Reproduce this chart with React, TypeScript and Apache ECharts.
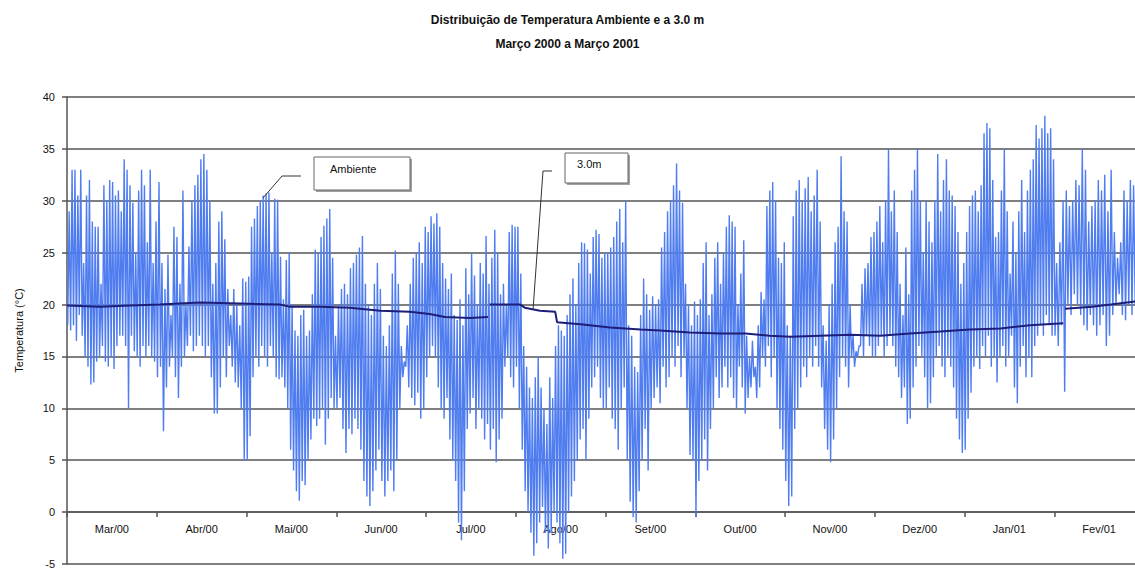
import React, { useEffect, useRef } from "react";
import * as echarts from "echarts";

// ---- Category labels (months) ----
const MONTHS = ["Mar/00", "Abr/00", "Mai/00", "Jun/00", "Jul/00", "Ago/00", "Set/00", "Out/00", "Nov/00", "Dez/00", "Jan/01", "Fev/01"];

// ---- Ambient temperature: daily maxima / minima (°C), per month ----
const marMax = [29, 33, 33, 30.5, 33, 24, 30.5, 32, 28, 27.5, 27.5, 22, 31.5, 30, 32, 31.8, 30.5, 31, 29, 34, 33, 31.5, 29.8, 25, 31, 33, 31.5, 26, 33, 24, 28];
const marMin = [18, 17.5, 18, 16.5, 19, 17, 15, 14, 12.3, 12.5, 14.5, 15, 16, 14.5, 14, 15, 13.8, 16, 17, 17, 16, 10, 17, 15.5, 15, 14, 16, 15, 16, 15, 14.5];
const aprMax = [31.8, 24, 21.5, 24.8, 19, 27.5, 26.5, 22, 31, 20, 25.6, 30, 31.5, 32.5, 34, 34.5, 33, 30, 22, 24, 28, 29, 26.3, 21.5, 19, 21.5, 20, 18, 22.5, 22.2];
const aprMin = [13, 14, 7.8, 12, 14, 15, 13, 11, 14, 15, 16, 17, 15.5, 16, 17, 16, 15, 16, 13, 9.5, 9.5, 12, 15, 13, 16, 14, 12.5, 12, 10, 5];
const mayMax = [22.7, 27.5, 28.3, 29.5, 30, 30.5, 30.7, 30.8, 25, 30.2, 30.1, 24.6, 20.5, 24.3, 25, 20, 17.5, 17, 19, 19.5, 17, 17.5, 21, 25.3, 25, 26.5, 27.6, 28.3, 29.2, 24.5, 17];
const mayMin = [5, 7.3, 13, 15, 14, 16, 15, 14, 16, 15, 13, 12.8, 13, 12, 10, 6, 4, 2, 1.1, 3, 2.6, 5, 7, 9, 8.3, 9, 10, 6.5, 9, 11, 10];
const junMax = [20, 21.5, 22, 21, 23.5, 24, 24.8, 25.5, 26.6, 22, 20, 19, 22, 24, 21.5, 17, 16, 18, 23, 25.2, 22, 16, 14.5, 18, 22, 24.5, 25, 26, 24, 27.5];
const junMin = [10, 11, 8, 5.7, 8, 7.5, 9, 8, 6, 3, 1.5, 0.6, 2, 4, 6, 3, 1.5, 3, 4, 2, 5, 10, 13, 14, 12, 11, 10.3, 11.5, 9, 10];
const julMax = [27, 28.5, 27.8, 28.8, 27.5, 24, 22.5, 21.5, 23, 19, 18.5, 20.5, 18, 23.5, 21, 24.9, 22.8, 20, 24, 23, 26.6, 22, 24.5, 27.2, 25, 21, 22, 20, 27, 27.7, 27.5];
const julMin = [13, 15, 16, 15, 12, 10, 9, 11, 7, 5, 3, -1, -2.7, 2, 8, 9.5, 11, 8, 10, 9, 7, 8.5, 6, 8, 4.8, 7, 9, 14, 15, 13, 12];
const augMax = [27.5, 23, 16, 14, 12, 11, 13, 15, 12, 10, 8.5, 13, 11, 16, 18, 17.5, 17, 19, 21, 22.5, 20, 24, 26, 25.9, 25.3, 23, 26.5, 27.2, 26.8, 24.5, 25];
const augMin = [14, 10, 6, 2, 0, -2, -4.2, -3, -1, 0.5, -2, -3.5, -2, 0, -1, -3, -4.5, -4, 0, 1.5, 3, 5, 7, 8, 5, 9, 12, 13, 14, 11, 10];
const sepMax = [25, 25.5, 26.5, 28, 29.2, 26, 30, 18, 17, 14, 13.5, 19, 22.5, 21, 19.5, 20.8, 20, 20.5, 25.5, 27, 29, 30, 31.5, 33.6, 31, 29.8, 22, 20, 18, 20.3];
const sepMin = [10, 12, 9, 8, 6, 10, 12, 5, 1, -0.5, -1, 2, 5, 8, 4, 10, 11, 12, 10.5, 14, 12, 13, 15, 14, 16, 13, 15, 10, 5.5, 5];
const octMax = [19, 20.5, 24, 26, 19, 21, 24.5, 26, 22, 25, 27.5, 28.6, 28, 27.5, 20, 23, 26.2, 17, 15, 16.5, 14, 18, 21.2, 20.5, 29.5, 31, 31.8, 30, 24.5, 24, 26];
const octMin = [-0.5, 3, 5, 7, 4, 8, 10, 13, 11, 12, 14, 12, 13, 11, 10, 14, 12, 9.5, 11, 12, 13, 11, 12, 15, 14, 16, 13, 15, 10, 8, 6];
const novMax = [18, 17, 28.5, 31, 32, 30, 31.2, 32.3, 29, 30.5, 33, 28, 18, 16.5, 20, 22, 26, 27.5, 34.3, 29, 28, 20, 17, 15.5, 16, 22, 23.5, 24, 26.5, 27];
const novMin = [3, 0.6, 1.5, 8, 10, 12, 14, 13, 15, 14, 16, 14, 12, 8, 6, 4.8, 7, 10, 13, 15, 14, 12, 15, 14, 15, 16, 15, 17, 16, 15];
const decMax = [28, 29.5, 26, 30, 35, 29, 31, 27, 22, 19, 25.5, 21, 31, 33, 35, 30, 25, 30, 28, 26, 30, 34.5, 29, 32, 34, 31, 30.5, 29.5, 27, 22, 24];
const decMin = [15, 16, 17, 15, 16, 17, 16, 14, 13, 11, 12, 8.5, 9, 12, 14, 16, 15, 13, 10, 10.5, 13, 15, 16, 14, 13, 15, 14, 12, 9, 7, 5.7];
const janMax = [27, 29.5, 30.5, 31, 29, 31.5, 36.5, 37.5, 37, 32, 26.5, 27, 31, 35, 29, 23, 28, 25, 29, 32, 27, 31, 33, 34, 37.3, 36, 37, 38.2, 36.5, 37, 34];
const janMin = [6, 9, 11.5, 14, 15, 13.8, 16, 15, 17, 14, 15, 12.5, 15, 16, 14, 15, 17, 12, 10.5, 14, 16, 13, 15, 13, 16, 17, 18, 17, 19, 18, 17];
const febMax = [24, 26, 30, 31, 29.5, 30, 32, 31.5, 35, 33, 28, 29.5, 30, 32, 31, 32.5, 29, 33, 27, 24.5, 26, 31, 30, 32, 31.5, 30.5, 31, 29];
const febMin = [17, 16, 18, 11.6, 20, 19, 21, 20, 19, 18, 17.5, 19, 18, 17, 18, 19, 16, 17, 19, 20, 21, 19, 18.5, 20, 19, 20, 21, 20];

const ambientMax = [marMax, aprMax, mayMax, junMax, julMax, augMax, sepMax, octMax, novMax, decMax, janMax, febMax];
const ambientMin = [marMin, aprMin, mayMin, junMin, julMin, augMin, sepMin, octMin, novMin, decMin, janMin, febMin];

// ---- Soil temperature at 3.0 m: time (in months from 1 Mar 2000) and value; null = gap ----
const soilTime = [0.0, 0.37, 0.7, 1.03, 1.48, 1.93, 2.37, 2.48, 2.82, 3.15, 3.49, 3.82, 4.04, 4.21, 4.49, 4.69, 4.7, 4.71, 5.05, 5.1, 5.27, 5.44, 5.46, 5.72, 6.05, 6.39, 6.61, 6.94, 7.28, 7.56, 7.83, 8.06, 8.39, 8.73, 9.06, 9.39, 9.73, 10.06, 10.4, 10.73, 11.1, 11.11, 11.12, 11.42, 11.63, 11.9];
const soilTemp = [19.9, 19.8, 19.9, 20.0, 20.2, 20.1, 20.0, 19.8, 19.8, 19.7, 19.4, 19.3, 19.1, 18.8, 18.7, 18.8, null, 20.0, 20.0, 19.7, 19.4, 19.3, 18.3, 18.1, 17.8, 17.6, 17.5, 17.3, 17.2, 17.2, 17.0, 16.9, 17.0, 17.1, 17.0, 17.2, 17.4, 17.6, 17.7, 18.0, 18.2, null, 19.6, 19.8, 20.0, 20.3];

// ---- Axis ticks ----
const Y_MIN = -5;
const Y_MAX = 40;
const Y_STEP = 5;

const FONT = "'Liberation Sans', Arial, sans-serif";

function buildAmbient(): number[][] {
  const out: number[][] = [];
  ambientMax.forEach((mx, m) => {
    const mn = ambientMin[m];
    const n = mx.length;
    for (let d = 0; d < n; d++) {
      out.push([m + (d + 0.25) / n, mn[d]]);
      out.push([m + (d + 0.75) / n, mx[d]]);
    }
  });
  return out;
}

function buildSoil(): (number | string)[][] {
  return soilTime.map((t, i) => [t, soilTemp[i] === null ? "-" : (soilTemp[i] as number)]);
}

export default function App() {
  const ref = useRef<HTMLDivElement>(null);

  useEffect(() => {
    if (!ref.current) return;
    const chart = echarts.init(ref.current, null, { renderer: "svg" });
    const gridColor = "#555";
    // plot area: y from 97 (40°C) to 564 (-5°C); 0°C at 97 + 467*40/45
    const plotTop = 97;
    const plotH = 467;
    const zeroH = Math.round((plotH * (Y_MAX - 0)) / (Y_MAX - Y_MIN));
    const option: any = {
      animation: false,
      backgroundColor: "#ffffff",
      title: {
        text: "Distribuição de Temperatura Ambiente e a 3.0 m\nMarço 2000 a Março 2001",
        left: "center",
        top: 3,
        textStyle: { fontFamily: FONT, fontSize: 12, fontWeight: "bold", color: "#111", lineHeight: 24 },
      },
      grid: [
        { left: 67, top: plotTop, width: 1077, height: plotH, outerBoundsMode: "none", containLabel: false },
        { left: 67, top: plotTop, width: 1077, height: zeroH, outerBoundsMode: "none", containLabel: false },
      ],
      xAxis: [
        { type: "value", gridIndex: 0, min: 0, max: 12, show: false },
        {
          type: "category",
          gridIndex: 1,
          position: "bottom",
          data: MONTHS,
          boundaryGap: true,
          axisLine: { show: true, onZero: false, lineStyle: { color: gridColor, width: 1.5 } },
          axisTick: { show: true, length: 5, lineStyle: { color: gridColor, width: 1.5 } },
          axisLabel: { fontFamily: FONT, fontSize: 11, color: "#111", margin: 11 },
          splitLine: { show: false },
        },
      ],
      yAxis: [
        {
          type: "value",
          gridIndex: 0,
          min: Y_MIN,
          max: Y_MAX,
          interval: Y_STEP,
          name: "Temperatura (°C)",
          nameLocation: "middle",
          nameGap: 43,
          nameTextStyle: { fontFamily: FONT, fontSize: 11, color: "#111" },
          axisLine: { show: true, onZero: false, lineStyle: { color: gridColor, width: 1.5 } },
          axisTick: { show: true, length: 5, lineStyle: { color: gridColor, width: 1.5 } },
          axisLabel: { fontFamily: FONT, fontSize: 11, color: "#111", margin: 12 },
          splitLine: { show: true, lineStyle: { color: gridColor, width: 1.5 } },
        },
        { type: "value", gridIndex: 1, min: 0, max: 40, show: false },
      ],
      series: [
        {
          name: "Ambiente",
          type: "line",
          xAxisIndex: 0,
          yAxisIndex: 0,
          data: buildAmbient(),
          symbol: "none",
          lineStyle: { color: "#4f7df0", width: 1.4 },
          z: 2,
        },
        {
          name: "3.0m",
          type: "line",
          xAxisIndex: 0,
          yAxisIndex: 0,
          data: buildSoil(),
          symbol: "none",
          connectNulls: false,
          lineStyle: { color: "#1e1e78", width: 2 },
          z: 3,
        },
      ],
      graphic: [
        { type: "rect", z: 100, shape: { x: 316, y: 159, width: 96, height: 33 }, style: { fill: "#a0a0a0" } },
        { type: "rect", z: 101, shape: { x: 314, y: 157, width: 96, height: 33 }, style: { fill: "#fff", stroke: "#666", lineWidth: 1 } },
        { type: "text", z: 102, x: 330, y: 169, style: { text: "Ambiente", fontFamily: FONT, fontSize: 11, fill: "#111", verticalAlign: "middle" } },
        { type: "polyline", z: 102, shape: { points: [[301, 176], [282, 176], [263, 198]] }, style: { stroke: "#333", lineWidth: 1, fill: "none" } },
        { type: "rect", z: 100, shape: { x: 567, y: 155, width: 63, height: 30 }, style: { fill: "#a0a0a0" } },
        { type: "rect", z: 101, shape: { x: 565, y: 153, width: 63, height: 30 }, style: { fill: "#fff", stroke: "#666", lineWidth: 1 } },
        { type: "text", z: 102, x: 577, y: 164, style: { text: "3.0m", fontFamily: FONT, fontSize: 11, fill: "#111", verticalAlign: "middle" } },
        { type: "polyline", z: 102, shape: { points: [[552, 171], [543, 171], [533, 310]] }, style: { stroke: "#333", lineWidth: 1, fill: "none" } },
      ],
    };
    chart.setOption(option);
    return () => chart.dispose();
  }, []);

  return (
    <div
      ref={ref}
      style={{ position: "absolute", left: 0, top: 0, width: 1135, height: 569, background: "#fff" }}
    />
  );
}
